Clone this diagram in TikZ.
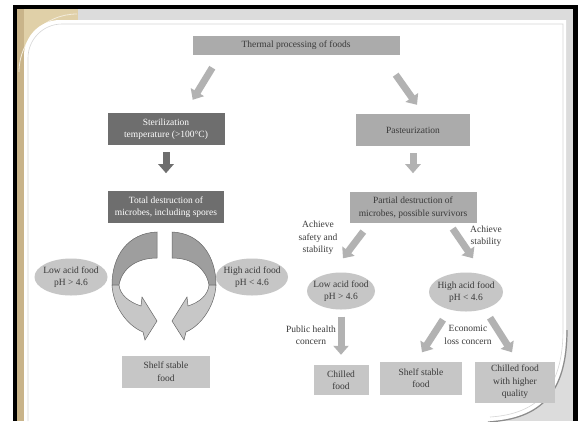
\documentclass[tikz,border=0pt]{standalone}
\usepackage{fontspec}
\setmainfont{Liberation Serif}
\usepackage{tikz}
\usetikzlibrary{positioning,arrows.meta,calc,shapes.geometric}
\definecolor{slidegray}{HTML}{DCDCDC}
\definecolor{beige}{HTML}{E0D0A8}
\definecolor{tan}{HTML}{C9B48A}
\definecolor{boxdark}{HTML}{6E6E6E}
\definecolor{boxmid}{HTML}{ABABAB}
\definecolor{boxlight}{HTML}{C6C6C6}
\definecolor{arrgray}{HTML}{B2B2B2}
\definecolor{txtgray}{HTML}{3A3A3A}
\tikzset{
  >={Triangle[length=9pt,width=15pt]},
  gbox/.style={rectangle,align=center,inner sep=1pt,
    font=\fontsize{9.5}{12.5}\selectfont,text=txtgray},
  darkbox/.style={gbox,fill=boxdark,text=white},
  midbox/.style={gbox,fill=boxmid},
  lightbox/.style={gbox,fill=boxlight},
  foodell/.style={ellipse,fill=boxlight,align=center,inner xsep=-4pt,
    inner ysep=1pt,font=\fontsize{9.5}{12.5}\selectfont,text=txtgray},
  blk/.style={->,line width=7pt,draw=arrgray},
  blkdark/.style={blk,draw=boxdark},
  note/.style={align=center,font=\fontsize{9.5}{12.5}\selectfont,
    text=txtgray,inner sep=1pt},
  ringdark/.style={fill=black!38,draw=black!60,line width=0.5pt},
  ringlight/.style={fill=black!22,draw=black!60,line width=0.5pt},
}

\begin{document}
\begin{tikzpicture}[x=1pt,y=-1pt]
  \useasboundingbox (0,0) rectangle (578,421);
  % slide frame
  \fill[white] (0,0) rectangle (578,421);
  \fill[black] (13,5) rectangle (578,421);
  \fill[slidegray] (17,9) rectangle (573,421);
  \fill[beige] (17,9) rectangle (78,75);
  \fill[tan] (17,9) rectangle (24,421);
  \draw[beige!40!white,line width=0.8pt] (19,72) arc[start angle=180,end angle=270,radius=58];
  \fill[white] (24,421) -- (24,56) arc[start angle=180,end angle=270,radius=36]
    -- (566,20) -- (566,332) .. controls (566,392) and (540,418) .. (490,421) -- cycle;
  \draw[black!45,line width=1.2pt] (567,330) .. controls (567,393) and (541,419) .. (488,422);
  \draw[black!16,line width=0.6pt] (28,421) -- (28,58) arc[start angle=180,end angle=270,radius=34]
    -- (563,24) -- (563,330) .. controls (563,388) and (538,414) .. (490,417);

  % boxes
  \node[midbox,minimum width=207pt,minimum height=19pt] (title) at (296,45) {Thermal processing of foods};
  \node[darkbox,minimum width=117pt,minimum height=32pt] (ster) at (166,129) {Sterilization\\temperature (>100°C)};
  \node[midbox,minimum width=114pt,minimum height=32pt] (past) at (413,130) {Pasteurization};
  \node[darkbox,minimum width=116pt,minimum height=32pt,below=46pt of ster] (total) {Total destruction of\\microbes, including spores};
  \node[midbox,minimum width=127pt,minimum height=31pt,below=46pt of past] (partial) {Partial destruction of\\microbes, possible survivors};

  % left branch
  \node[foodell,minimum width=73pt,minimum height=37pt] (lowL) at (71,277) {Low acid food\\pH > 4.6};
  \node[foodell,minimum width=72pt,minimum height=37pt] (highL) at (252,277) {High acid food\\pH < 4.6};
  \node[lightbox,minimum width=88pt,minimum height=32pt,below=132pt of total] (shelfL) {Shelf stable\\food};

  % right branch
  \node[foodell,minimum width=68pt,minimum height=37pt] (lowR) at (341,291) {Low acid food\\pH > 4.6};
  \node[foodell,minimum width=74pt,minimum height=39pt] (highR) at (466,292) {High acid food\\pH < 4.6};
  \node[lightbox,minimum width=55pt,minimum height=30pt] (chill) at (341,380) {Chilled\\food};
  \node[lightbox,minimum width=82pt,minimum height=33pt] (shelfR) at (421,378) {Shelf stable\\food};
  \node[lightbox,minimum width=80pt,minimum height=41pt] (chillq) at (515,382) {Chilled food\\with higher\\quality};

  \node[note] (safe) at (318,238) {Achieve\\safety and\\stability};
  \node[note] (stab) at (486,236) {Achieve\\stability};
  \node[note] (health) at (311,335) {Public health\\concern};
  \node[note] (econ) at (468,335) {Economic\\loss concern};

  % arrows
  \draw[blk] ($(title.south west)+(20,13)$) -- ($(ster.north east)+(-32,-13)$);
  \draw[blk] ($(title.south east)+(-4,20)$) -- ($(past.north)+(4,-9)$);
  \draw[blkdark,shorten <=7pt,shorten >=18pt] (ster.south) -- (total.north);
  \draw[blk,shorten <=7pt,shorten >=19pt] (past.south) -- (partial.north);
  \draw[blk] ($(partial.south west)+(14,8)$) -- ($(lowR.north)+(2,-14)$);
  \draw[blk] ($(partial.south east)+(-24,5)$) -- ($(highR.north)+(7,-14)$);
  \draw[blk,shorten <=7pt,shorten >=10pt] (lowR.south) -- (chill.north);
  \draw[blk] ($(highR.south)+(-23,8)$) -- ($(shelfR.north)+(1,-9)$);
  \draw[blk] ($(highR.south)+(24,6)$) -- ($(chillq.north)+(-3,-9)$);

  % circular arrows
  \draw[ringdark] (157,232) .. controls (128,233) and (112,256) .. (112,285)
    -- (119,285) .. controls (122,268) and (137,258) .. (157,258) -- cycle;
  \draw[ringlight] (112,285) .. controls (113,305) and (126,325) .. (143,332)
    -- (145,340) -- (157,321) -- (142,297) -- (141,306)
    .. controls (129,302) and (120,295) .. (119,285) -- cycle;
  \draw[ringdark] (172,232) .. controls (200,233) and (216,256) .. (216,285)
    -- (209,285) .. controls (206,268) and (192,258) .. (172,258) -- cycle;
  \draw[ringlight] (216,285) .. controls (215,305) and (202,325) .. (186,332)
    -- (184,340) -- (172,321) -- (187,297) -- (188,306)
    .. controls (200,302) and (208,295) .. (209,285) -- cycle;
\end{tikzpicture}
\end{document}
